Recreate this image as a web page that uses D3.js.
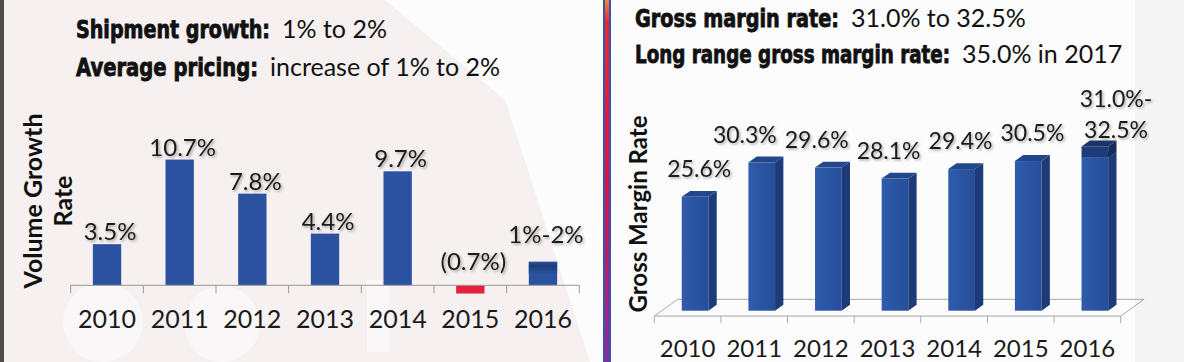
<!DOCTYPE html>
<html>
<head>
<meta charset="utf-8">
<script src="https://cdnjs.cloudflare.com/ajax/libs/d3/7.8.5/d3.min.js"></script>
<style>
body { margin: 0; background: #fbfafa; }
svg { display: block; }
</style>
</head>
<body>
<div class="my_div"></div>
<script>
// Data
var years = ["2010", "2011", "2012", "2013", "2014", "2015", "2016"];

var volumeGrowth = [3.5, 10.7, 7.8, 4.4, 9.7, -0.7, 2.0];
var volumeLow = [null, null, null, null, null, null, 1.0];
var volumeLabels = ["3.5%", "10.7%", "7.8%", "4.4%", "9.7%", "(0.7%)", "1%-2%"];

var grossMargin = [25.6, 30.3, 29.6, 28.1, 29.4, 30.5, 32.5];
var grossMarginLow = [null, null, null, null, null, null, 31.0];
var marginLabels = [["25.6%"], ["30.3%"], ["29.6%"], ["28.1%"], ["29.4%"], ["30.5%"], ["31.0%-", "32.5%"]];

var leftNotes = [["Shipment growth:", "1% to 2%"], ["Average pricing:", "increase of 1% to 2%"]];
var rightNotes = [["Gross margin rate:", "31.0% to 32.5%"], ["Long range gross margin rate:", "35.0% in 2017"]];

var regular = "Lato, 'Open Sans', sans-serif";
var heavyCond = "'DejaVu Sans Condensed', 'Liberation Sans Narrow', sans-serif";

var width = 1184,
    height = 362;

var svg = d3.select(".my_div")
    .append("svg")
    .attr("width", width)
    .attr("height", height);

var defs = svg.append("defs");

// soft shadow behind the value labels
defs.append("filter")
    .attr("id", "shadow")
    .attr("x", "-20%").attr("y", "-20%")
    .attr("width", "140%").attr("height", "160%")
    .append("feDropShadow")
    .attr("dx", 1.5).attr("dy", 1.5)
    .attr("stdDeviation", 1.2)
    .attr("flood-color", "#444")
    .attr("flood-opacity", 0.45);

var divGrad = defs.append("linearGradient")
    .attr("id", "divider")
    .attr("x1", 0).attr("y1", 0).attr("x2", 0).attr("y2", 1);
[["0", "#f08a30"], ["0.06", "#ea2a2a"], ["0.5", "#de1440"], ["1", "#8a2c98"]].forEach((s) => {
    divGrad.append("stop").attr("offset", s[0]).attr("stop-color", s[1]);
});

var rangeGrad = defs.append("linearGradient")
    .attr("id", "rangeLeft")
    .attr("x1", 0).attr("y1", 0).attr("x2", 0).attr("y2", 1);
rangeGrad.append("stop").attr("offset", "0").attr("stop-color", "#2a52a0");
rangeGrad.append("stop").attr("offset", "0.35").attr("stop-color", "#1f3c78");
rangeGrad.append("stop").attr("offset", "1").attr("stop-color", "#2a52a0");

var frontGrad = defs.append("linearGradient")
    .attr("id", "front3d")
    .attr("x1", 0).attr("y1", 0).attr("x2", 1).attr("y2", 0);
frontGrad.append("stop").attr("offset", "0").attr("stop-color", "#2f5cad");
frontGrad.append("stop").attr("offset", "1").attr("stop-color", "#264d98");

// Background with the faded watermark
svg.append("rect")
    .attr("width", width).attr("height", height)
    .attr("fill", "#fcfcfc");

svg.append("polygon")
    .attr("points", "4,0 385,0 505,100 590,362 4,362")
    .attr("fill", "#f6f0f0");

[[103, 322, 40], [222, 324, 38]].forEach((c) => {
    svg.append("circle")
        .attr("cx", c[0]).attr("cy", c[1]).attr("r", c[2])
        .attr("fill", "#f9f7f7");
});
svg.append("rect")
    .attr("x", 367).attr("y", 280).attr("width", 22).attr("height", 72)
    .attr("fill", "#f9f7f7");

svg.append("rect")
    .attr("x", 1135).attr("y", 0).attr("width", 49).attr("height", height)
    .attr("fill", "#ededed").attr("opacity", 0.5);

svg.append("rect")
    .attr("x", 0).attr("width", 4).attr("height", height)
    .attr("fill", "#4d4d4d");

svg.append("rect")
    .attr("x", 603).attr("width", 8).attr("height", height)
    .attr("fill", "#3553b4");
svg.append("rect")
    .attr("x", 605).attr("width", 4).attr("height", height)
    .attr("fill", "url(#divider)");

// Two-part headline: heavy condensed label then regular text
function notes(list, x, baselines, widths) {
    list.forEach((n, i) => {
        svg.append("text")
            .attr("x", x)
            .attr("y", baselines[i])
            .attr("font-family", heavyCond)
            .attr("font-weight", "bold")
            .attr("font-size", "24px")
            .attr("textLength", widths[i])
            .attr("lengthAdjust", "spacingAndGlyphs")
            .attr("fill", "#111")
            .attr("stroke", "#111")
            .attr("stroke-width", 0.8)
            .text(n[0]);
        svg.append("text")
            .attr("x", x + widths[i] + 12)
            .attr("y", baselines[i])
            .attr("font-family", regular)
            .attr("font-size", "25px")
            .attr("fill", "#111")
            .text(n[1]);
    });
}

notes(leftNotes, 76, [37.5, 76], [194, 182]);
notes(rightNotes, 635, [26.7, 63.3], [204, 315]);

// ---------------- Left chart: volume growth ----------------
var xL = d3.scaleBand()
    .domain(years)
    .range([70.7, 579.3])
    .paddingInner(0.61)
    .paddingOuter(0.305);

var yL = d3.scaleLinear()
    .domain([0, 12])
    .range([285.3, 144.3]);

var left = svg.append("g");

var rowsL = years.map((y, i) => {
    return { year: y, v: volumeGrowth[i], low: volumeLow[i], label: volumeLabels[i] };
});

left.selectAll("rect.bar")
    .data(rowsL)
    .enter()
    .append("rect")
    .attr("class", "bar")
    .attr("x", (d) => { return xL(d.year); })
    .attr("width", xL.bandwidth())
    .attr("y", (d) => { return yL(Math.max(0, d.v)); })
    .attr("height", (d) => { return Math.abs(yL(d.v) - yL(0)); })
    .attr("fill", (d) => { return d.v < 0 ? "#e4203c" : "#2a52a0"; });

// range part of the 2016 bar is shaded darker
left.selectAll("rect.range")
    .data(rowsL.filter((d) => { return d.low != null; }))
    .enter()
    .append("rect")
    .attr("class", "range")
    .attr("x", (d) => { return xL(d.year); })
    .attr("width", xL.bandwidth())
    .attr("y", (d) => { return yL(d.v); })
    .attr("height", (d) => { return yL(d.low) - yL(d.v); })
    .attr("fill", "url(#rangeLeft)");

// axis line with ticks between the categories
var stepL = xL.step();
left.append("line")
    .attr("x1", xL.range()[0]).attr("x2", xL.range()[1])
    .attr("y1", yL(0)).attr("y2", yL(0))
    .attr("stroke", "#9a9a9a");
left.selectAll("line.tick")
    .data(d3.range(years.length + 1))
    .enter()
    .append("line")
    .attr("x1", (i) => { return xL.range()[0] + i * stepL; })
    .attr("x2", (i) => { return xL.range()[0] + i * stepL; })
    .attr("y1", yL(0)).attr("y2", yL(0) + 8)
    .attr("stroke", "#9a9a9a");

var axL = left.append("g")
    .attr("transform", "translate(0," + yL(0) + ")")
    .call(d3.axisBottom(xL).tickSize(0));
axL.select(".domain").remove();
axL.selectAll("text")
    .attr("y", 43).attr("dy", 0)
    .attr("font-family", regular)
    .attr("font-size", "25px")
    .attr("fill", "#1a1a1a");

left.selectAll("text.val")
    .data(rowsL)
    .enter()
    .append("text")
    .attr("class", "val")
    .attr("x", (d) => { return xL(d.year) + xL.bandwidth() / 2 + 3; })
    .attr("y", (d) => {
        if (d.v < 0) return yL(0) - 15;
        if (d.low != null) return yL(d.v) - 19;
        return yL(d.v) - 4;
    })
    .attr("text-anchor", "middle")
    .attr("font-family", regular)
    .attr("font-size", "24px")
    .attr("fill", "#1a1a1a")
    .attr("filter", "url(#shadow)")
    .text((d) => { return d.label; });

// rotated axis title
[["Volume Growth", 41.7], ["Rate", 71.7]].forEach((t) => {
    left.append("text")
        .attr("transform", "translate(" + t[1] + ",201) rotate(-90)")
        .attr("text-anchor", "middle")
        .attr("font-family", regular)
        .attr("font-weight", "bold")
        .attr("font-size", "25px")
        .attr("fill", "#111")
        .text(t[0]);
});

// ---------------- Right chart: gross margin (3D bars) ----------------
var xR = d3.scaleBand()
    .domain(years)
    .range([654.3, 1120.7])
    .paddingInner(0.6)
    .paddingOuter(0.3);

var yR = d3.scaleLinear()
    .domain([10, 35])
    .range([310.7, 128.2]);

var floorDx = 23.4,
    floorDy = -16.7,
    barPos = 0.32,     // where the bars stand inside the floor depth
    barDepth = 0.355;  // how deep a bar is

var floorFront = yR(10) - barPos * floorDy;
var offX = barPos * floorDx;
var ddx = barDepth * floorDx,
    ddy = barDepth * floorDy;

var right = svg.append("g");

var x0 = xR.range()[0],
    x1 = xR.range()[1];

right.append("path")
    .attr("d", "M" + x0 + "," + floorFront +
        "L" + x1 + "," + floorFront +
        "L" + (x1 + floorDx) + "," + (floorFront + floorDy) +
        "L" + (x0 + floorDx) + "," + (floorFront + floorDy) + "Z")
    .attr("fill", "none")
    .attr("stroke", "#a8a8a8");

var stepR = xR.step();
right.selectAll("line.tick")
    .data(d3.range(years.length + 1))
    .enter()
    .append("line")
    .attr("x1", (i) => { return x0 + i * stepR; })
    .attr("x2", (i) => { return x0 + i * stepR; })
    .attr("y1", floorFront).attr("y2", floorFront + 7)
    .attr("stroke", "#a8a8a8");

var rowsR = years.map((y, i) => {
    return { year: y, v: grossMargin[i], low: grossMarginLow[i], label: marginLabels[i] };
});

// one 3D block from value a to value b
function block(g, d, a, b, shade) {
    var bx = xR(d.year) + offX,
        w = xR.bandwidth(),
        yb = yR(a),
        yt = yR(b);
    g.append("rect")
        .attr("x", bx).attr("y", yt)
        .attr("width", w).attr("height", yb - yt)
        .attr("fill", shade ? "#1e3c7a" : "url(#front3d)");
    g.append("polygon")
        .attr("points", [[bx + w, yt], [bx + w + ddx, yt + ddy], [bx + w + ddx, yb + ddy], [bx + w, yb]].join(" "))
        .attr("fill", shade ? "#152c5c" : "#1d3b78");
    g.append("polygon")
        .attr("points", [[bx, yt], [bx + ddx, yt + ddy], [bx + w + ddx, yt + ddy], [bx + w, yt]].join(" "))
        .attr("fill", shade ? "#1a3468" : "#234789");
}

rowsR.forEach((d) => {
    var g = right.append("g");
    if (d.low != null) {
        block(g, d, 10, d.low, false);
        block(g, d, d.low, d.v, true);
    } else {
        block(g, d, 10, d.v, false);
    }
});

var axR = right.append("g")
    .attr("transform", "translate(0," + floorFront + ")")
    .call(d3.axisBottom(xR).tickSize(0));
axR.select(".domain").remove();
axR.selectAll("text")
    .attr("y", 41).attr("dy", 0)
    .attr("font-family", regular)
    .attr("font-size", "24px")
    .attr("fill", "#1a1a1a");

var labelsR = [];
rowsR.forEach((d) => {
    var cx = xR(d.year) + offX + xR.bandwidth() / 2 + ddx / 2;
    var t = right.append("text")
        .attr("text-anchor", "middle")
        .attr("font-family", regular)
        .attr("font-size", "23px")
        .attr("fill", "#1a1a1a")
        .attr("filter", "url(#shadow)");
    if (d.label.length > 1) {
        t.attr("x", cx + 17).attr("y", yR(d.v) - 8 - 31 * (d.label.length - 1));
        d.label.forEach((s, i) => {
            t.append("tspan")
                .attr("x", cx + 17)
                .attr("dy", i == 0 ? 0 : 31)
                .text(s);
        });
    } else {
        t.attr("x", cx).attr("y", yR(d.v) - 20).text(d.label[0]);
        labelsR.push({ node: t, x: cx, y: yR(d.v) - 20, w: t.node().getComputedTextLength() });
    }
});

// nudge neighbouring labels apart when they sit on the same row
for (var i = labelsR.length - 2; i >= 0; i--) {
    var a = labelsR[i], b = labelsR[i + 1];
    var gap = (b.x - b.w / 2) - (a.x + a.w / 2);
    if (Math.abs(a.y - b.y) < 20 && gap < 8) {
        a.x -= 8 - gap;
        a.node.attr("x", a.x);
    }
}

right.append("text")
    .attr("transform", "translate(646.7,214) rotate(-90)")
    .attr("text-anchor", "middle")
    .attr("font-family", regular)
    .attr("font-weight", "bold")
    .attr("font-size", "24px")
    .attr("fill", "#111")
    .text("Gross Margin Rate");
</script>
</body>
</html>
